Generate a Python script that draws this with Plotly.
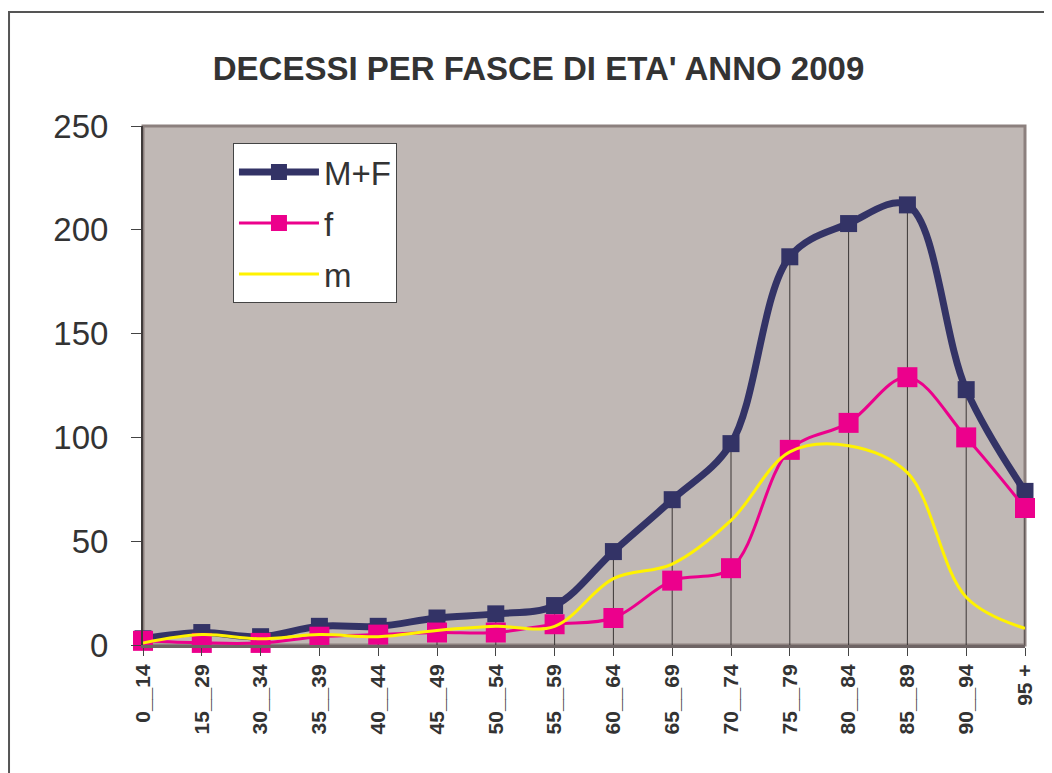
import plotly.graph_objects as go

categories = ["0__14", "15__29", "30__34", "35__39", "40__44", "45__49", "50__54",
              "55__59", "60__64", "65__69", "70__74", "75__79", "80__84", "85__89",
              "90__94", "95 +"]
mf = [3, 6, 4, 9, 9, 13, 15, 19, 45, 70, 97, 187, 203, 212, 123, 74]
f = [2, 1, 1, 4, 5, 6, 6, 10, 13, 31, 37, 94, 107, 129, 100, 66]
m = [1, 5, 3, 5, 4, 7, 9, 9, 32, 39, 60, 93, 96, 83, 23, 8]
y_ticks = [0, 50, 100, 150, 200, 250]

FONT = "Arial, Liberation Sans, sans-serif"
OFF = 8  # page body margin

fig = go.Figure()

# drop lines from M+F points to the axis
dx, dy = [], []
for c, v in zip(categories, mf):
    dx += [c, c, None]
    dy += [0, v, None]
fig.add_trace(go.Scatter(x=dx, y=dy, mode="lines", showlegend=False,
                         line=dict(color="#3a3535", width=1), hoverinfo="skip",
                         cliponaxis=False))

fig.add_trace(go.Scatter(x=categories, y=mf, name="M+F", mode="lines+markers",
                         line=dict(color="#333366", width=7, shape="spline", smoothing=1),
                         marker=dict(symbol="square", size=17, color="#333366"),
                         legendgroup="a", cliponaxis=False))
fig.add_trace(go.Scatter(x=categories, y=f, name="f", mode="lines+markers",
                         line=dict(color="#EC008C", width=3, shape="spline", smoothing=1),
                         marker=dict(symbol="square", size=20, color="#EC008C"),
                         legendgroup="b", cliponaxis=False))
fig.add_trace(go.Scatter(x=categories, y=m, name="m", mode="lines",
                         line=dict(color="#FFF200", width=3, shape="spline", smoothing=1),
                         legendgroup="c", cliponaxis=False))

# plot frame
fig.add_shape(type="rect", xref="paper", yref="paper", x0=0, x1=1, y0=0, y1=1,
              line=dict(color="#8C807E", width=3), layer="below")
# outer chart border
fig.add_shape(type="rect", xref="paper", yref="paper", x0=-0.1519, x1=1.2, y0=-0.4, y1=1.2197,
              line=dict(color="#555555", width=2), layer="below")

fig.update_layout(
    width=1052, height=773,
    margin=dict(l=143 - OFF, r=27 + OFF, t=126 - OFF, b=128 + OFF),
    paper_bgcolor="white",
    plot_bgcolor="#C0B8B5",
    font=dict(family=FONT, color="#333333"),
    title=dict(text="<b>DECESSI PER FASCE DI ETA' ANNO 2009</b>",
               font=dict(family=FONT, size=33, color="#333333"),
               x=(538.5 - OFF) / 1052, xref="container", xanchor="center",
               y=1 - (68 - OFF) / 773, yref="container", yanchor="middle"),
    showlegend=True,
    legend=dict(x=0.102, y=0.967, xanchor="left", yanchor="top",
                bgcolor="white", bordercolor="#444444", borderwidth=1,
                font=dict(family=FONT, size=33, color="#333333"),
                traceorder="grouped", tracegroupgap=5, itemwidth=80),
    xaxis=dict(type="category", range=[0, len(categories) - 1],
               showgrid=False, zeroline=False,
               showline=True, linecolor="#6E6464", linewidth=3,
               ticks="outside", ticklen=8, tickcolor="#444444", tickwidth=1,
               tickangle=-90,
               tickfont=dict(family=FONT, size=21, color="#333333", weight="bold")),
    yaxis=dict(range=[0, 250], tickvals=y_ticks,
               showgrid=False, zeroline=False,
               showline=True, linecolor="#3F3A3A", linewidth=2,
               ticks="outside", ticklen=10, tickcolor="#444444", tickwidth=1,
               ticklabelstandoff=16,
               tickfont=dict(family=FONT, size=33, color="#333333")),
)

fig.write_html("out.html")
